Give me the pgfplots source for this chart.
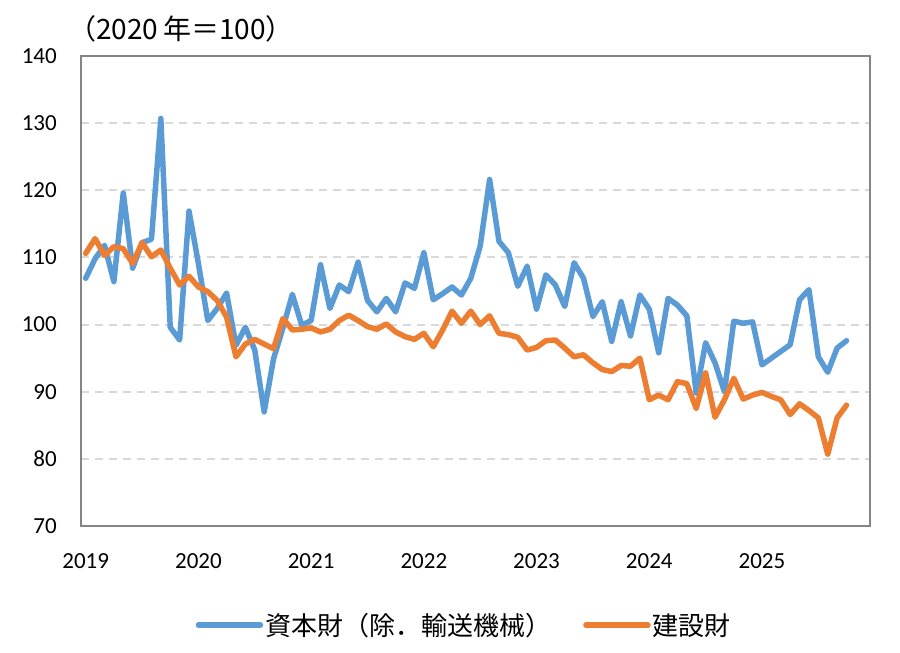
\documentclass[border=0pt]{standalone}
\usepackage{pgfplots}
\pgfplotsset{compat=1.18}
\usepackage{fontspec}
\setmainfont{Carlito}
\newfontfamily\jp{Noto Sans CJK JP}

\definecolor{capblue}{HTML}{5B9BD5}
\definecolor{conorange}{HTML}{ED7D31}
\definecolor{framegray}{HTML}{858585}
\definecolor{gridgray}{HTML}{D9D9D9}

% monthly index, 0 = Jan 2019
\pgfplotstableread{
m   val
0   106.9
1   109.8
2   111.8
3   106.4
4   119.6
5   108.4
6   112.2
7   112.7
8   130.7
9   99.6
10  97.7
11  116.9
12  109.1
13  100.6
14  102.4
15  104.7
16  96.9
17  99.6
18  96.2
19  87.0
20  94.9
21  99.5
22  104.5
23  99.9
24  100.6
25  108.9
26  102.4
27  105.9
28  104.9
29  109.3
30  103.6
31  101.9
32  103.9
33  101.9
34  106.2
35  105.4
36  110.7
37  103.7
38  104.6
39  105.6
40  104.4
41  106.9
42  111.7
43  121.6
44  112.4
45  110.7
46  105.7
47  108.7
48  102.3
49  107.4
50  105.9
51  102.7
52  109.2
53  106.9
54  101.2
55  103.4
56  97.5
57  103.4
58  98.3
59  104.4
60  102.3
61  95.8
62  103.9
63  102.9
64  101.3
65  89.8
66  97.3
67  94.3
68  90.0
69  100.5
70  100.2
71  100.4
72  94.0
73  95.0
74  96.0
75  97.0
76  103.7
77  105.2
78  95.2
79  92.9
80  96.5
81  97.6
}\capital

\pgfplotstableread{
m   val
0   110.6
1   112.8
2   110.3
3   111.6
4   111.3
5   109.1
6   112.2
7   110.1
8   111.1
9   108.4
10  105.9
11  107.2
12  105.6
13  104.9
14  103.6
15  101.1
16  95.2
17  97.1
18  97.8
19  97.1
20  96.4
21  100.9
22  99.2
23  99.3
24  99.5
25  98.9
26  99.3
27  100.6
28  101.4
29  100.6
30  99.7
31  99.3
32  100.1
33  98.9
34  98.2
35  97.8
36  98.7
37  96.7
38  99.2
39  102.0
40  100.2
41  102.0
42  100.0
43  101.3
44  98.7
45  98.5
46  98.1
47  96.2
48  96.6
49  97.6
50  97.7
51  96.5
52  95.2
53  95.5
54  94.3
55  93.3
56  93.0
57  93.9
58  93.8
59  95.0
60  88.8
61  89.5
62  88.8
63  91.5
64  91.2
65  87.5
66  92.8
67  86.2
68  88.8
69  92.0
70  88.9
71  89.5
72  89.9
73  89.3
74  88.8
75  86.6
76  88.2
77  87.2
78  86.1
79  80.7
80  86.1
81  88.0
}\construction

\begin{document}
\begin{tikzpicture}
\path[use as bounding box] (0pt,0pt) rectangle (900pt,653pt);
\begin{axis}[
    at={(81pt,127pt)}, anchor=south west,
    scale only axis,
    width=789pt, height=470pt,
    xmin=-0.5, xmax=83.5,
    ymin=70, ymax=140,
    xtick={0,12,24,36,48,60,72},
    xticklabels={2019,2020,2021,2022,2023,2024,2025},
    ytick={70,80,...,140},
    major tick length=0pt,
    axis line style={framegray, line width=2.5pt},
    ymajorgrids,
    grid style={gridgray, line width=2pt, dash pattern=on 8pt off 6pt},
    tick label style={font=\fontsize{23}{27}\selectfont, text=black},
    /pgf/number format/assume math mode=true,
    xticklabel style={anchor=base, yshift=-43pt},
    yticklabel style={anchor=east, inner sep=0pt, xshift=-24pt},
    legend columns=2,
    legend style={
      at={(0.4857,-0.211)}, anchor=center,
      draw=none, fill=none,
      font=\jp\fontsize{26}{30}\selectfont,
      /tikz/every even column/.append style={column sep=30pt},
    },
    legend image code/.code={\draw[#1] (0pt,0pt) -- (62pt,0pt);},
    every axis plot/.append style={line width=5.5pt, line join=round, line cap=round},
]
\addplot[capblue] table[x=m, y=val] {\capital};
\addlegendentry{資本財（除．輸送機械）}
\addplot[conorange] table[x=m, y=val] {\construction};
\addlegendentry{建設財}
\end{axis}
\node[anchor=base west, inner sep=0pt, font=\jp\fontsize{28}{32}\selectfont] at (68pt,613pt) {（2020\,年＝100）};
\end{tikzpicture}
\end{document}
